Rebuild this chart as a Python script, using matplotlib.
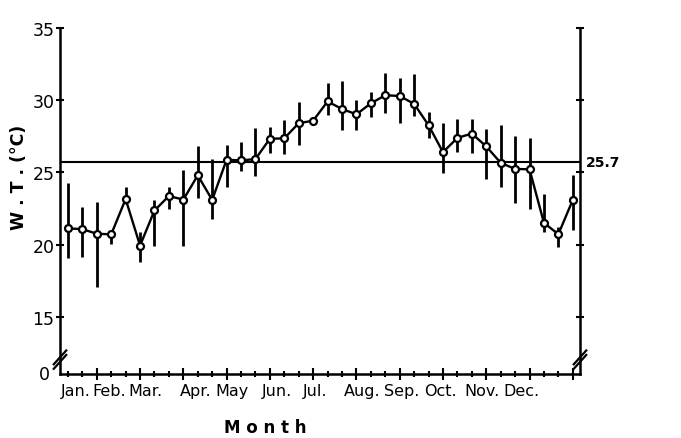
import matplotlib
matplotlib.use("Agg")
import matplotlib.pyplot as plt
import numpy as np

# Ten-day (dekad) mean water temperature, 3 per month
months = ["Jan.", "Feb.", "Mar.", "Apr.", "May", "Jun.", "Jul.", "Aug.", "Sep.", "Oct.", "Nov.", "Dec."]
month_label_pos = [1.55, 3.84, 6.34, 9.87, 12.37, 15.48, 18.12, 21.37, 24.15, 26.85, 29.69, 32.46]
wt_mean = [21.13, 21.08, 20.76, 20.72, 23.16, 19.94, 22.37, 23.37, 23.12, 24.80, 23.10, 25.88,
           25.83, 25.93, 27.33, 27.36, 28.41, 28.58, 29.91, 29.39, 29.02, 29.78, 30.34, 30.29,
           29.74, 28.27, 26.40, 27.39, 27.69, 26.80, 25.67, 25.24, 25.22, 21.51, 20.73, 23.10]
wt_low = [19.06, 19.15, 17.05, 20.05, 22.80, 18.80, 19.90, 22.50, 19.90, 23.20, 21.80, 24.00,
          25.08, 24.73, 26.38, 26.31, 26.90, 28.30, 28.95, 27.97, 27.92, 28.84, 29.10, 28.45,
          28.90, 27.35, 24.95, 26.40, 26.38, 24.55, 24.00, 22.90, 22.50, 20.90, 19.85, 21.00]
wt_high = [24.30, 22.60, 22.97, 20.90, 24.00, 20.90, 23.07, 24.00, 25.20, 26.86, 25.90, 26.90,
           27.14, 28.05, 28.12, 28.66, 29.90, 28.80, 31.20, 31.30, 29.99, 30.56, 31.87, 31.55,
           31.80, 29.19, 28.40, 28.70, 28.70, 28.00, 28.30, 27.50, 27.40, 23.50, 21.20, 24.80]
annual_mean = 25.7
ytick_vals = [15, 20, 25, 30, 35]

x = np.arange(1, len(wt_mean) + 1)
y_bottom = 11.06  # drawn position of the broken-axis "0"

fig = plt.figure(figsize=(6.81, 4.39), dpi=100)
ax = fig.add_axes([0.0881, 0.1458, 0.7636, 0.7884])

# error bars
ax.vlines(x, wt_low, wt_high, color="black", lw=2.0, zorder=2)
# mean line
ax.axhline(annual_mean, color="black", lw=1.5, zorder=1)
# series
ax.plot(x, wt_mean, color="black", lw=1.7, marker="o", ms=5,
        mfc="white", mec="black", mew=1.6, zorder=3)

ax.set_xlim(0.45, 36.5)
ax.set_ylim(y_bottom, 35)

ax.spines["top"].set_visible(False)
for s in ["left", "right", "bottom"]:
    ax.spines[s].set_linewidth(1.8)

ax.set_yticks(ytick_vals)
ax.set_yticklabels([str(v) for v in ytick_vals], fontsize=12.5)
ax.tick_params(axis="y", direction="inout", length=6, width=1.5, pad=1,
               right=True, labelright=False)

ax.set_xticks(x[2::3])
ax.set_xticks(x, minor=True)
ax.set_xticklabels([])
ax.tick_params(axis="x", which="major", direction="inout", length=9, width=1.5)
ax.tick_params(axis="x", which="minor", direction="inout", length=5, width=1.5)

# "0" at the broken origin
ax.text(-0.02, 0.0, "0", transform=ax.transAxes, ha="right", va="center", fontsize=12.5)

# break marks
for xa in [0.0, 1.0]:
    for dy in [0.035, 0.048]:
        ax.plot([xa - 0.012, xa + 0.012], [dy - 0.02, dy + 0.02], transform=ax.transAxes,
                color="black", lw=1.6, clip_on=False, zorder=5)

# month labels
for pos, m in zip(month_label_pos, months):
    ax.text(pos, -0.026, m, transform=ax.get_xaxis_transform(), ha="center", va="top",
            fontsize=11.5)

ax.text(1.012, (annual_mean - y_bottom) / (35 - y_bottom), "25.7", transform=ax.transAxes,
        ha="left", va="center", fontsize=10, fontweight="bold")

fig.text(0.39, 0.025, "M o n t h", ha="center", va="center", fontsize=12, fontweight="bold")
fig.text(0.028, 0.595, "W . T . (°C)", ha="center", va="center", rotation=90,
         fontsize=12.5, fontweight="bold")

fig.savefig("out.png", dpi=100)
